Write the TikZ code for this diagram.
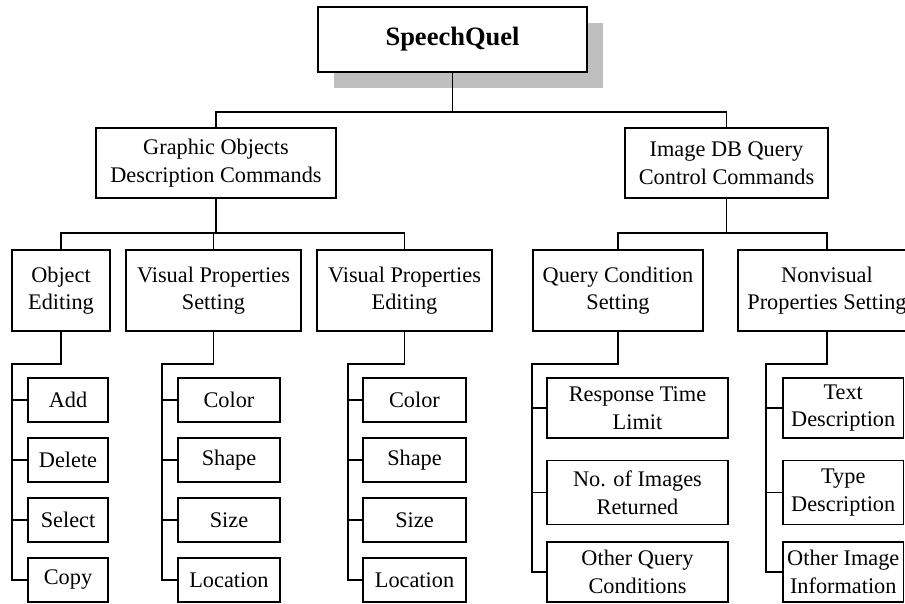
\documentclass[tikz,border=0pt]{standalone}
\usepackage{fontspec}
\setmainfont{Liberation Serif}
\usetikzlibrary{shadows}
\begin{document}
\begin{tikzpicture}[x=1pt,y=-1pt,
  box/.style={draw, line width=1.8pt, inner sep=0pt, align=center, fill=white,
    font=\fontsize{22.3}{27.5}\selectfont},
  conn/.style={line width=1.8pt, line join=miter},
  stub/.style={line width=1.3pt}]
\useasboundingbox (0,0) rectangle (905,603);
% level 0
\node[box, minimum width=269pt, minimum height=65pt,
  font=\bfseries\fontsize{26.5}{30}\selectfont,
  drop shadow={shadow xshift=16pt, shadow yshift=-16pt, fill=black!25, opacity=1}]
  (sq) at (452.5,39.5) {SpeechQuel};
% level 1
\node[box, minimum width=240pt, minimum height=70pt] (gobj) at (216,163) {Graphic Objects\\Description Commands};
\node[box, minimum width=203pt, minimum height=70pt] (idb) at (726.5,163) {Image DB Query\\Control Commands};
% level 2
\node[box, minimum width=98pt, minimum height=81pt] (oe) at (61,290.5) {Object\\Editing};
\node[box, minimum width=175pt, minimum height=81pt] (vps) at (213.5,290.5) {Visual Properties\\Setting};
\node[box, minimum width=175pt, minimum height=81pt] (vpe) at (404.5,290.5) {Visual Properties\\Editing};
\node[box, minimum width=170pt, minimum height=81pt] (qcs) at (618,290.5) {Query Condition\\Setting};
\node[box, minimum width=178pt, minimum height=81pt] (nps) at (827,290.5) {Nonvisual\\Properties Setting};
% level 3 : object editing
\node[box, minimum width=80pt, minimum height=44pt] (add) at (68,400) {Add};
\node[box, minimum width=80pt, minimum height=44pt] (del) at (68,460) {Delete};
\node[box, minimum width=80pt, minimum height=44pt] (sel) at (68,520) {Select};
\node[box, minimum width=80pt, minimum height=44pt] (cop) at (68,580) {Copy};
% visual properties setting
\node[box, minimum width=102pt, minimum height=44pt] (sc) at (229,400) {Color};
\node[box, minimum width=102pt, minimum height=44pt] (ssh) at (229,460) {Shape};
\node[box, minimum width=102pt, minimum height=44pt] (ssz) at (229,520) {Size};
\node[box, minimum width=102pt, minimum height=44pt] (slo) at (229,580) {Location};
% visual properties editing
\node[box, minimum width=103pt, minimum height=44pt] (ec) at (414.5,400) {Color};
\node[box, minimum width=103pt, minimum height=44pt] (esh) at (414.5,460) {Shape};
\node[box, minimum width=103pt, minimum height=44pt] (esz) at (414.5,520) {Size};
\node[box, minimum width=103pt, minimum height=44pt] (elo) at (414.5,580) {Location};
% query condition
\node[box, minimum width=181pt, minimum height=60pt] (rtl) at (637.5,408) {Response Time\\Limit};
\node[box, minimum width=181pt, minimum height=64pt] (noi) at (637.5,492.5) {No. of Images\\Returned};
\node[box, minimum width=181pt, minimum height=60pt] (oqc) at (637.5,572) {Other Query\\Conditions};
% nonvisual
\node[box, minimum width=120.5pt, minimum height=60pt] (txd) at (843.25,408) {Text\\Description};
\node[box, minimum width=120.5pt, minimum height=64pt] (tyd) at (843.25,492.5) {Type\\Description};
\node[box, minimum width=120.5pt, minimum height=60pt] (oii) at (843.25,572) {Other Image\\Information};
% bus coordinates
\coordinate (b0) at (0,112);
\coordinate (b1) at (0,233);
\coordinate (b2) at (0,364);
% level 0 -> 1
\draw[conn] (sq.south) -- (sq.south |- b0);
\draw[conn] (gobj.north) -- (gobj.north |- b0) -- (idb.north |- b0) -- (idb.north);
% level 1 -> 2
\draw[conn] (gobj.south) -- (gobj.south |- b1);
\draw[conn] (oe.north) -- (oe.north |- b1) -- (vpe.north |- b1) -- (vpe.north);
\draw[conn] (vps.north) -- (vps.north |- b1);
\draw[conn] (idb.south) -- (idb.south |- b1);
\draw[conn] (qcs.north) -- (qcs.north |- b1) -- (nps.north |- b1) -- (nps.north);
% level 2 -> 3
\coordinate (x1) at (12,0);
\coordinate (x2) at (162,0);
\coordinate (x3) at (348,0);
\coordinate (x4) at (532,0);
\coordinate (x5) at (766,0);
\draw[conn] (oe.south) -- (oe.south |- b2) -- (x1 |- b2) -- (x1 |- cop.west) -- (cop.west);
\foreach \n in {add,del,sel} \draw[stub] (x1 |- \n.west) -- (\n.west);
\draw[conn] (vps.south) -- (vps.south |- b2) -- (x2 |- b2) -- (x2 |- slo.west) -- (slo.west);
\foreach \n in {sc,ssh,ssz} \draw[stub] (x2 |- \n.west) -- (\n.west);
\draw[conn] (vpe.south) -- (vpe.south |- b2) -- (x3 |- b2) -- (x3 |- elo.west) -- (elo.west);
\foreach \n in {ec,esh,esz} \draw[stub] (x3 |- \n.west) -- (\n.west);
\draw[conn] (qcs.south) -- (qcs.south |- b2) -- (x4 |- b2) -- (x4 |- oqc.west) -- (oqc.west);
\foreach \n in {rtl,noi} \draw[stub] (x4 |- \n.west) -- (\n.west);
\draw[conn] (nps.south) -- (nps.south |- b2) -- (x5 |- b2) -- (x5 |- oii.west) -- (oii.west);
\foreach \n in {txd,tyd} \draw[stub] (x5 |- \n.west) -- (\n.west);
\end{tikzpicture}
\end{document}
